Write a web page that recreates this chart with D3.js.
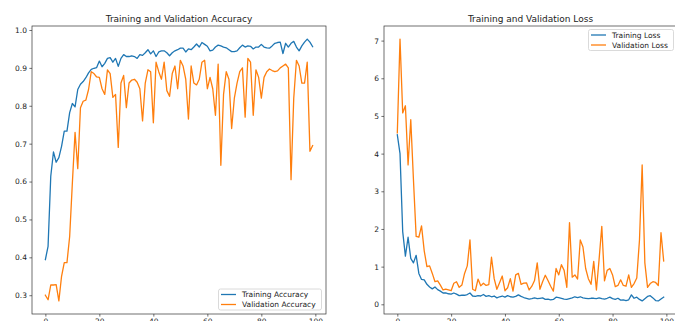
<!DOCTYPE html>
<html>
<head>
<meta charset="utf-8">
<script src="https://cdn.jsdelivr.net/npm/d3@7"></script>
<style>
  html, body { margin: 0; padding: 0; background: #fff; }
  svg { display: block; font-family: "DejaVu Sans", sans-serif; }
</style>
</head>
<body>
<div id="chart"></div>
<script>
// epochs 0..99
const epochs = d3.range(100);

const trainAcc = [
  0.394, 0.429, 0.614, 0.678, 0.651, 0.663, 0.693, 0.733, 0.733, 0.782,
  0.806, 0.797, 0.843, 0.857, 0.864, 0.874, 0.887, 0.896, 0.899, 0.901,
  0.918, 0.903, 0.912, 0.925, 0.927, 0.915, 0.925, 0.904, 0.925, 0.935,
  0.930, 0.930, 0.932, 0.930, 0.925, 0.935, 0.933, 0.940, 0.948, 0.937,
  0.945, 0.930, 0.942, 0.945, 0.945, 0.940, 0.932, 0.940, 0.945, 0.948,
  0.952, 0.952, 0.942, 0.950, 0.948, 0.955, 0.963, 0.955, 0.967, 0.962,
  0.957, 0.945, 0.947, 0.955, 0.960, 0.958, 0.955, 0.953, 0.948, 0.943,
  0.943, 0.945, 0.953, 0.960, 0.955, 0.958, 0.957, 0.950, 0.955, 0.955,
  0.962, 0.955, 0.953, 0.952, 0.958, 0.965, 0.967, 0.968, 0.938, 0.965,
  0.955, 0.965, 0.970, 0.955, 0.945, 0.958, 0.968, 0.976, 0.968, 0.956
];

const valAcc = [
  0.300, 0.288, 0.327, 0.327, 0.328, 0.285, 0.350, 0.386, 0.386, 0.455,
  0.596, 0.730, 0.634, 0.795, 0.812, 0.815, 0.843, 0.890, 0.885, 0.876,
  0.875, 0.845, 0.830, 0.895, 0.885, 0.822, 0.830, 0.690, 0.860, 0.880,
  0.795, 0.860, 0.868, 0.870, 0.862, 0.845, 0.760, 0.860, 0.895, 0.890,
  0.755, 0.915, 0.890, 0.870, 0.915, 0.840, 0.825, 0.885, 0.905, 0.845,
  0.920, 0.905, 0.870, 0.765, 0.905, 0.860, 0.855, 0.870, 0.915, 0.920,
  0.845, 0.875, 0.845, 0.775, 0.910, 0.643, 0.830, 0.890, 0.870, 0.740,
  0.820, 0.860, 0.890, 0.900, 0.770, 0.925, 0.915, 0.775, 0.895, 0.875,
  0.820, 0.875, 0.890, 0.897, 0.893, 0.890, 0.892, 0.900, 0.905, 0.910,
  0.900, 0.605, 0.820, 0.920, 0.905, 0.860, 0.860, 0.915, 0.680, 0.695
];

const trainLoss = [
  4.50, 4.00, 1.93, 1.28, 1.78, 1.22, 1.10, 1.30, 0.82, 0.66,
  0.65, 0.53, 0.46, 0.41, 0.46, 0.39, 0.35, 0.30, 0.30, 0.28,
  0.27, 0.30, 0.27, 0.23, 0.24, 0.24, 0.26, 0.30, 0.22, 0.21,
  0.23, 0.22, 0.26, 0.21, 0.23, 0.20, 0.22, 0.17, 0.20, 0.22,
  0.19, 0.23, 0.20, 0.19, 0.21, 0.25, 0.21, 0.18, 0.16, 0.14,
  0.15, 0.17, 0.15, 0.16, 0.17, 0.13, 0.14, 0.12, 0.13, 0.19,
  0.18, 0.16, 0.14, 0.13, 0.15, 0.17, 0.20, 0.18, 0.20, 0.17,
  0.16, 0.15, 0.16, 0.16, 0.15, 0.17, 0.15, 0.14, 0.16, 0.19,
  0.15, 0.13, 0.16, 0.11, 0.12, 0.10, 0.12, 0.25, 0.16, 0.19,
  0.13, 0.09, 0.15, 0.21, 0.23, 0.17, 0.10, 0.09, 0.14, 0.19
];

const valLoss = [
  4.55, 7.04, 5.08, 5.27, 3.70, 4.90, 3.30, 1.80, 1.78, 2.08,
  1.42, 1.00, 1.02, 0.82, 0.60, 0.62, 0.51, 0.38, 0.40, 0.38,
  0.36, 0.56, 0.60, 0.45, 0.51, 0.82, 1.02, 1.71, 0.40, 0.36,
  0.67, 0.49, 0.56, 0.50, 0.52, 1.25, 0.68, 0.40, 0.57, 0.75,
  0.36, 0.44, 0.68, 0.35, 0.78, 0.82, 0.53, 0.56, 0.57, 0.38,
  0.48, 0.63, 1.10, 0.40, 0.60, 0.77, 0.63, 0.48, 0.35, 0.95,
  0.78, 1.05, 0.90, 0.45, 2.17, 0.72, 0.78, 0.67, 1.71, 1.52,
  0.95, 0.68, 0.53, 1.14, 0.38, 1.20, 2.07, 0.62, 0.90, 0.95,
  0.78, 0.47, 0.50, 0.65, 0.50, 0.48, 0.78, 0.45, 0.55, 0.70,
  1.70, 3.70, 1.10, 0.45, 0.55, 0.60, 0.58, 0.50, 1.90, 1.15
];

const epochTicks = [0, 20, 40, 60, 80, 100];
const accTicks = [0.3, 0.4, 0.5, 0.6, 0.7, 0.8, 0.9, 1.0];
const lossTicks = [0, 1, 2, 3, 4, 5, 6, 7];

const blue = '#1f77b4';
const orange = '#ff7f0e';

const width = 675, height = 321;

const svg = d3.select('#chart')
  .append('svg')
  .attr('width', width)
  .attr('height', height);

// matplotlib-like 5% margins around the data
function padded(ext) {
  const p = (ext[1] - ext[0]) * 0.05;
  return [ext[0] - p, ext[1] + p];
}

function drawPanel(box, cfg) {
  const x = d3.scaleLinear()
    .domain(padded(d3.extent(epochs)))
    .range([box.left, box.right]);

  const y = d3.scaleLinear()
    .domain(padded(d3.extent(cfg.series.flatMap(s => s.values))))
    .range([box.bottom, box.top]);

  const g = svg.append('g');

  // clip to the axes area
  const clipId = 'clip-' + cfg.id;
  svg.append('clipPath').attr('id', clipId)
    .append('rect')
    .attr('x', box.left).attr('y', box.top)
    .attr('width', box.right - box.left)
    .attr('height', box.bottom - box.top);

  const line = d3.line()
    .x((d, i) => x(epochs[i]))
    .y(d => y(d));

  cfg.series.forEach(s => {
    g.append('path')
      .attr('clip-path', `url(#${clipId})`)
      .attr('fill', 'none')
      .attr('stroke', s.color)
      .attr('stroke-width', 1.3)
      .attr('stroke-linejoin', 'round')
      .attr('stroke-linecap', 'square')
      .attr('d', line(s.values));
  });

  // axes
  const xAxis = g.append('g')
    .attr('transform', `translate(0,${box.bottom})`)
    .call(d3.axisBottom(x).tickValues(epochTicks).tickSize(2.6).tickPadding(2.4).tickFormat(d3.format('d')));

  const yAxis = g.append('g')
    .attr('transform', `translate(${box.left},0)`)
    .call(d3.axisLeft(y).tickValues(cfg.yTicks).tickSize(2.6).tickPadding(2.4).tickFormat(cfg.yFormat));

  [xAxis, yAxis].forEach(a => {
    a.select('.domain').remove();
    a.selectAll('line').attr('stroke', '#333').attr('stroke-width', 0.7);
    a.selectAll('text')
      .style('font-family', '"DejaVu Sans", sans-serif')
      .style('font-size', '7.5px')
      .attr('fill', '#222');
  });

  // spines
  g.append('rect')
    .attr('x', box.left).attr('y', box.top)
    .attr('width', box.right - box.left)
    .attr('height', box.bottom - box.top)
    .attr('fill', 'none')
    .attr('stroke', '#333')
    .attr('stroke-width', 0.7);

  // title
  svg.append('text')
    .attr('x', (box.left + box.right) / 2)
    .attr('y', 22)
    .attr('text-anchor', 'middle')
    .style('font-size', '9px')
    .attr('fill', '#222')
    .text(cfg.title);

  // legend
  const lg = svg.append('g')
    .attr('transform', `translate(${cfg.legend.x},${cfg.legend.y})`);

  lg.append('rect')
    .attr('x', 0).attr('y', 0)
    .attr('width', cfg.legend.w).attr('height', 21)
    .attr('rx', 2)
    .attr('fill', 'rgba(255,255,255,0.8)')
    .attr('stroke', '#d0d0d0')
    .attr('stroke-width', 0.8);

  cfg.series.forEach((s, i) => {
    const cy = 5.5 + i * 10;
    lg.append('line')
      .attr('x1', 2.5).attr('x2', 17.5)
      .attr('y1', cy).attr('y2', cy)
      .attr('stroke', s.color)
      .attr('stroke-width', 1.3);
    lg.append('text')
      .attr('x', 23.5).attr('y', cy)
      .attr('dy', '0.35em')
      .style('font-size', '7.5px')
      .attr('fill', '#222')
      .text(s.name);
  });
}

drawPanel({ left: 32, right: 326, top: 26, bottom: 314 }, {
  id: 'acc',
  title: 'Training and Validation Accuracy',
  yTicks: accTicks,
  yFormat: d3.format('.1f'),
  series: [
    { name: 'Training Accuracy', values: trainAcc, color: blue },
    { name: 'Validation Accuracy', values: valAcc, color: orange }
  ],
  legend: { x: 218.5, y: 289, w: 103 }
});

drawPanel({ left: 384, right: 677, top: 26, bottom: 314 }, {
  id: 'loss',
  title: 'Training and Validation Loss',
  yTicks: lossTicks,
  yFormat: d3.format('d'),
  series: [
    { name: 'Training Loss', values: trainLoss, color: blue },
    { name: 'Validation Loss', values: valLoss, color: orange }
  ],
  legend: { x: 588.5, y: 29.5, w: 85 }
});
</script>
</body>
</html>
